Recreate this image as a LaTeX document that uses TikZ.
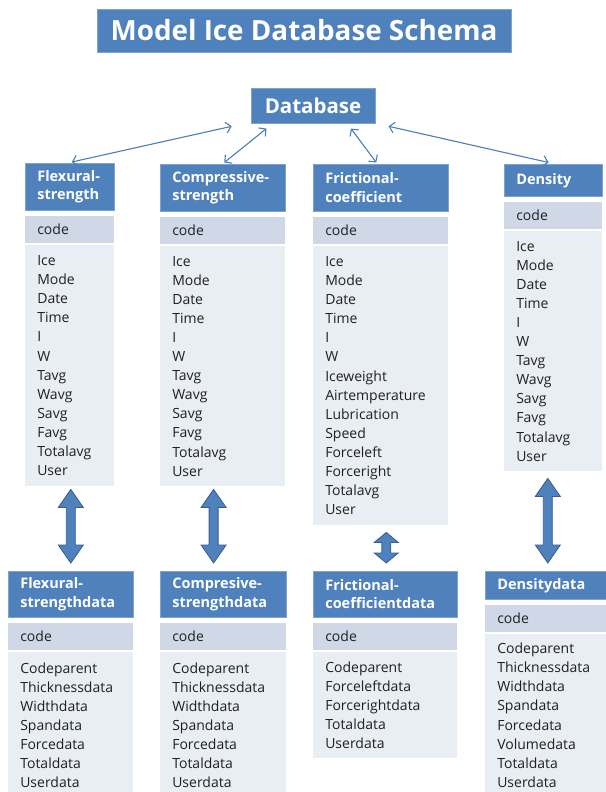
\documentclass[tikz,border=0pt]{standalone}
\usepackage{fontspec}
\setmainfont{Open Sans}
\usetikzlibrary{positioning,arrows.meta,calc}

\definecolor{hdrblue}{HTML}{4F81BD}
\definecolor{hdredge}{HTML}{7FA2CF}
\definecolor{codefill}{HTML}{D0D8E8}
\definecolor{bodyfill}{HTML}{E9EDF4}
\definecolor{linkblue}{HTML}{4A7EBB}
\definecolor{arrowedge}{HTML}{385D8A}
\definecolor{ink}{HTML}{202020}

\tikzset{
  box/.style={rectangle, inner xsep=12pt, inner ysep=0pt, align=left},
  hdr/.style={box, fill=hdrblue, draw=hdredge, line width=0.6pt, text=white,
    font=\fontsize{14.5}{18.5}\selectfont\bfseries},
  coderow/.style={box, fill=codefill, text=ink, minimum height=27pt,
    font=\fontsize{14}{19.1}\selectfont},
  fields/.style={box, fill=bodyfill, text=ink, font=\fontsize{14}{19.1}\selectfont},
  link/.style={linkblue, line width=1.1pt,
    {Straight Barb[length=5pt,width=11pt]}-{Straight Barb[length=5pt,width=11pt]}},
  bigarrow/.style={fill=hdrblue, draw=arrowedge, line width=0.8pt, line join=miter},
}

\begin{document}
\begin{tikzpicture}[x=1pt, y=-1pt]
  \useasboundingbox (0,0) rectangle (605,792);

  % title and root
  \node[hdr, minimum width=414pt, minimum height=43pt, inner xsep=0pt,
    font=\fontsize{27.8}{30}\selectfont\bfseries] (title) at (304,30.5) {Model Ice Database Schema};
  \node[hdr, minimum width=124pt, minimum height=35pt, inner xsep=0pt,
    font=\fontsize{20.5}{24}\selectfont\bfseries] (db) at (313,105.5) {Database};

  % upper tables
  \node[hdr, text width=65pt, minimum height=47pt, anchor=north west] (fsH) at (25,163) {Flexural-\\strength};
  \node[coderow, text width=65pt, below=5pt of fsH] (fsC) {code};
  \node[fields, text width=65pt, minimum height=241pt, below=2pt of fsC] (fsF)
    {Ice\\Mode\\Date\\Time\\I\\W\\Tavg\\Wavg\\Savg\\Favg\\Totalavg\\User};

  \node[hdr, text width=101pt, minimum height=47pt, anchor=north west] (csH) at (160,164) {Compressive-\\strength};
  \node[coderow, text width=101pt, below=5pt of csH] (csC) {code};
  \node[fields, text width=101pt, minimum height=240pt, below=2pt of csC] (csF)
    {Ice\\Mode\\Date\\Time\\I\\W\\Tavg\\Wavg\\Savg\\Favg\\Totalavg\\User};

  \node[hdr, text width=111pt, minimum height=47pt, anchor=north west] (fcH) at (313,164) {Frictional-\\coefficient};
  \node[coderow, text width=111pt, below=5pt of fcH] (fcC) {code};
  \node[fields, text width=111pt, minimum height=279pt, below=2pt of fcC] (fcF)
    {Ice\\Mode\\Date\\Time\\I\\W\\Iceweight\\Airtemperature\\Lubrication\\Speed\\Forceleft\\Forceright\\Totalavg\\User};

  \node[hdr, text width=74pt, minimum height=32pt, anchor=north west] (dH) at (504,164) {Density};
  \node[coderow, text width=74pt, below=5pt of dH] (dC) {code};
  \node[fields, text width=74pt, minimum height=240pt, below=2pt of dC] (dF)
    {Ice\\Mode\\Date\\Time\\I\\W\\Tavg\\Wavg\\Savg\\Favg\\Totalavg\\User};

  % lower tables
  \node[hdr, text width=101pt, minimum height=46pt, anchor=north west] (fsdH) at (8,571) {Flexural-\\strengthdata};
  \node[coderow, text width=101pt, below=5pt of fsdH] (fsdC) {code};
  \node[fields, text width=101pt, minimum height=146pt, below=2pt of fsdC] (fsdF)
    {Codeparent\\Thicknessdata\\Widthdata\\Spandata\\Forcedata\\Totaldata\\Userdata};

  \node[hdr, text width=102pt, minimum height=46pt, anchor=north west] (csdH) at (160,571) {Compresive-\\strengthdata};
  \node[coderow, text width=102pt, below=5pt of csdH] (csdC) {code};
  \node[fields, text width=102pt, minimum height=146pt, below=2pt of csdC] (csdF)
    {Codeparent\\Thicknessdata\\Widthdata\\Spandata\\Forcedata\\Totaldata\\Userdata};

  \node[hdr, text width=120pt, minimum height=46pt, anchor=north west] (fcdH) at (313,571) {Frictional-\\coefficientdata};
  \node[coderow, text width=120pt, below=5pt of fcdH] (fcdC) {code};
  \node[fields, text width=120pt, minimum height=106pt, below=2pt of fcdC] (fcdF)
    {Codeparent\\Forceleftdata\\Forcerightdata\\Totaldata\\Userdata};

  \node[hdr, text width=101pt, minimum height=28pt, anchor=north west] (ddH) at (485,571) {Densitydata};
  \node[coderow, text width=101pt, below=5pt of ddH] (ddC) {code};
  \node[fields, text width=101pt, minimum height=162pt, below=2pt of ddC] (ddF)
    {Codeparent\\Thicknessdata\\Widthdata\\Spandata\\Forcedata\\Volumedata\\Totaldata\\Userdata};

  % thin links to the root
  \draw[link] ([xshift=-19pt,yshift=-3pt]db.south west) -- ([xshift=2pt,yshift=1pt]fsH.north);
  \draw[link] ([xshift=15.7pt,yshift=-5.3pt]db.south west) -- ([xshift=1.5pt,yshift=1.5pt]csH.north);
  \draw[link] ([xshift=-24.3pt,yshift=-5.3pt]db.south east) -- ([xshift=-4.5pt,yshift=1.5pt]fcH.north);
  \draw[link] ([xshift=13.3pt,yshift=-3pt]db.south east) -- ([xshift=-4.7pt,yshift=1.5pt]dH.north);

  % fat double arrows between upper and lower tables
  \coordinate (fsT) at ($(fsF.south)+(1,3)$);
  \coordinate (fsB) at ($(fsT |- fsdH.north)+(0,-8)$);
  \coordinate (csT) at ($(csF.south)+(-9.2,3)$);
  \coordinate (csB) at ($(csT |- csdH.north)+(0,-8)$);
  \coordinate (fcT) at ($(fcF.south)+(5.5,7)$);
  \coordinate (fcB) at ($(fcT |- fcdH.north)+(0,-8)$);
  \coordinate (dT) at ($(dF.south)+(-5.5,7)$);
  \coordinate (dB) at ($(dT |- ddH.north)+(0,-8)$);
  \foreach \t/\b/\h/\w in {fsT/fsB/18/12.5, csT/csB/18/12.5, fcT/fcB/10/12, dT/dB/18/12.5} {
    \draw[bigarrow] (\t) -- ($(\t)+(\w,\h)$) -- ($(\t)+(4.5,\h)$) -- ($(\b)+(4.5,-\h)$)
      -- ($(\b)+(\w,-\h)$) -- (\b) -- ($(\b)+(-\w,-\h)$) -- ($(\b)+(-4.5,-\h)$)
      -- ($(\t)+(-4.5,\h)$) -- ($(\t)+(-\w,\h)$) -- cycle;
  }
\end{tikzpicture}
\end{document}
